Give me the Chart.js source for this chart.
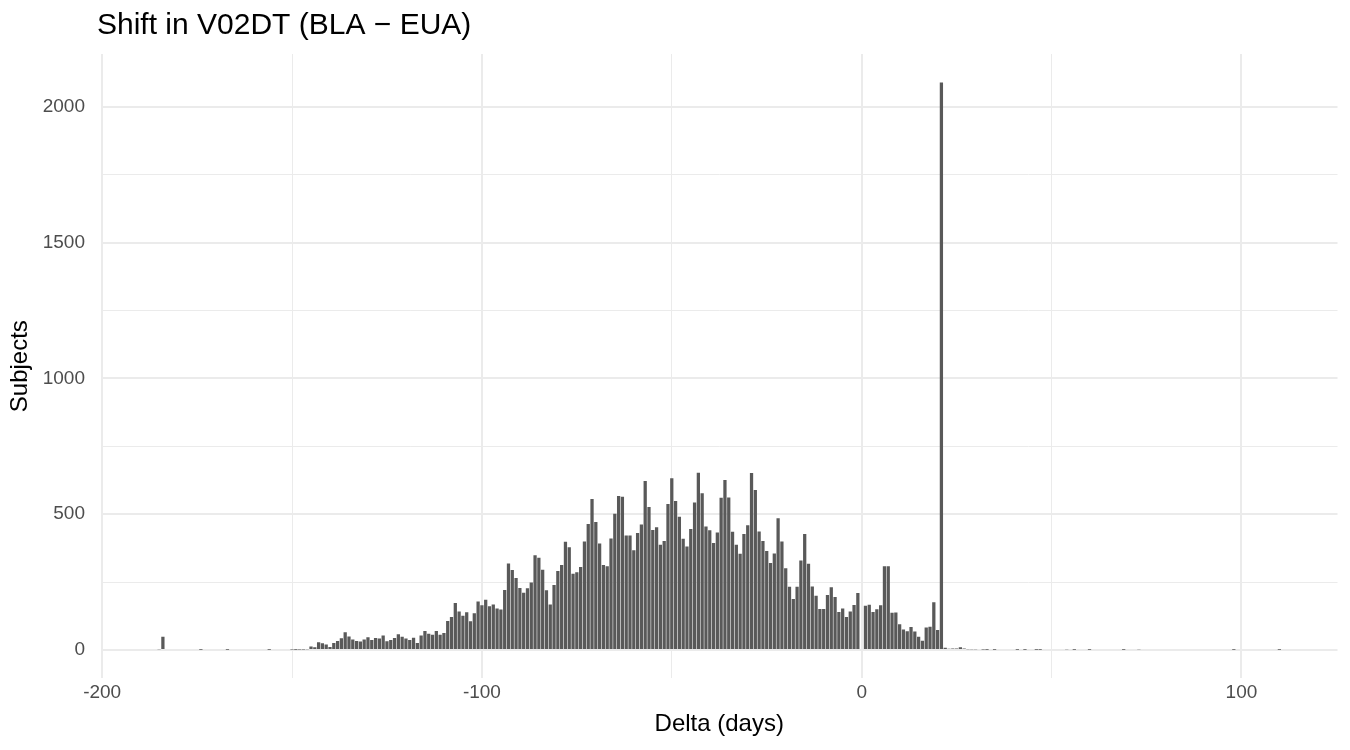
<!DOCTYPE html>
<html>
<head>
<meta charset="utf-8">
<script src="https://cdn.jsdelivr.net/npm/chart.js@4.4.1/dist/chart.umd.min.js"></script>
<style>
  body { margin: 0; background: #fff; }
  #wrap { width: 1350px; height: 750px; }
</style>
</head>
<body>
<div id="wrap"><canvas id="chart"></canvas></div>
<script>
// histogram of day shifts, one bin per day
const chartTitle = 'Shift in V02DT (BLA \u2212 EUA)';
const firstDay = -150;
const dayCounts = [
  2, 1, 2, 2, 3, 13, 10, 29, 25, 20,            // -150..-141
  11, 26, 33, 43, 65, 50, 39, 33, 31, 39,       // -140..-131
  47, 37, 44, 42, 53, 32, 37, 44, 58, 49,       // -130..-121
  42, 37, 45, 26, 53, 70, 60, 56, 70, 56,       // -120..-111
  63, 107, 122, 173, 142, 126, 139, 106, 135, 179, // -110..-101
  165, 185, 161, 168, 153, 149, 221, 319, 295, 265, // -100..-91
  228, 211, 227, 249, 349, 340, 296, 220, 168, 239, // -90..-81
  291, 313, 399, 378, 281, 286, 306, 400, 464, 556, // -80..-71
  471, 392, 313, 308, 411, 502, 567, 564, 422, 422, // -70..-61
  367, 431, 462, 622, 527, 442, 452, 388, 401, 538, // -60..-51
  632, 549, 491, 410, 381, 446, 543, 653, 577, 455, // -50..-41
  441, 394, 433, 561, 626, 562, 435, 388, 354, 427, // -40..-31
  459, 652, 589, 436, 401, 365, 320, 355, 485, 400, // -30..-21
  301, 233, 188, 233, 330, 427, 318, 234, 200, 151, // -20..-11
  151, 203, 231, 195, 140, 153, 122, 142, 166, 210, // -10..-1
  0, 163, 167, 140, 150, 165, 308, 308, 137, 138,   // 0..9
  95, 76, 69, 85, 68, 49, 34, 83, 86, 176,          // 10..19
  74, 2090, 8, 5, 6, 6, 10, 6, 3, 3,                // 20..29
  3                                                 // 30
];
// scattered single days outside the main block
const tailDays = [-185, -184, -174, -167, -156, 32, 33, 35, 41, 43, 46, 47, 54, 56, 60, 69, 73, 98, 110];
const tailCounts = [3, 49, 1, 1, 1, 2, 1, 1, 1, 1, 1, 1, 3, 1, 1, 1, 3, 1, 1];

const xTicks = [-200, -150, -100, -50, 0, 50, 100];
const yTicks = [0, 250, 500, 750, 1000, 1250, 1500, 1750, 2000];

let points = [];
for (let i = 0; i < tailDays.length; i++) {
  points.push({ x: tailDays[i], y: tailCounts[i] });
}
for (let i = 0; i < dayCounts.length; i++) {
  points.push({ x: firstDay + i, y: dayCounts[i] });
}
points.sort((a, b) => a.x - b.x);

const titlePlugin = {
  id: 'plotTitle',
  afterDraw(chart) {
    const ctx = chart.ctx;
    ctx.save();
    ctx.fillStyle = '#000';
    ctx.font = '30px "Liberation Sans", Arial, sans-serif';
    ctx.textAlign = 'left';
    ctx.textBaseline = 'alphabetic';
    ctx.fillText(chartTitle, 97, 34);
    ctx.restore();
  }
};

const gridColor = '#EBEBEB';
const tickFont = { family: '"Liberation Sans", Arial, sans-serif', size: 19 };
const axisFont = { family: '"Liberation Sans", Arial, sans-serif', size: 24 };

new Chart(document.getElementById('chart'), {
  type: 'bar',
  data: {
    datasets: [{
      data: points,
      backgroundColor: '#595959',
      borderWidth: 0,
      barPercentage: 0.86,
      categoryPercentage: 1
    }]
  },
  options: {
    responsive: true,
    maintainAspectRatio: false,
    devicePixelRatio: 1,
    animation: false,
    layout: { padding: { top: 54, right: 12.5, bottom: 0, left: 0 } },
    plugins: {
      legend: { display: false },
      tooltip: { enabled: false }
    },
    scales: {
      x: {
        type: 'linear',
        min: -200.3,
        max: 125.3,
        offset: false,
        afterBuildTicks: (scale) => { scale.ticks = xTicks.map(v => ({ value: v })); },
        afterFit: (scale) => { scale.height = 71.6; },
        grid: {
          offset: false,
          color: gridColor,
          lineWidth: (c) => (c.tick && c.tick.value % 100 === 0) ? 2 : 1,
          drawTicks: false
        },
        border: { display: false },
        ticks: {
          color: '#4D4D4D',
          font: tickFont,
          padding: 3,
          maxRotation: 0,
          autoSkip: false,
          callback: (v) => (v % 100 === 0 ? String(v) : '')
        },
        title: {
          display: true,
          text: 'Delta (days)',
          color: '#000',
          font: axisFont,
          padding: { top: 0, bottom: 11 }
        }
      },
      y: {
        min: -104.5,
        max: 2194.5,
        afterBuildTicks: (scale) => { scale.ticks = yTicks.map(v => ({ value: v })); },
        afterFit: (scale) => { scale.width = 101; },
        grid: {
          color: gridColor,
          lineWidth: (c) => (c.tick && c.tick.value % 500 === 0) ? 2 : 1,
          drawTicks: false
        },
        border: { display: false },
        ticks: {
          color: '#4D4D4D',
          font: tickFont,
          padding: 16,
          autoSkip: false,
          callback: (v) => (v % 500 === 0 ? String(v) : '')
        },
        title: {
          display: true,
          text: 'Subjects',
          color: '#000',
          font: axisFont,
          padding: { top: 6, bottom: 0 }
        }
      }
    }
  },
  plugins: [titlePlugin]
});
</script>
</body>
</html>
